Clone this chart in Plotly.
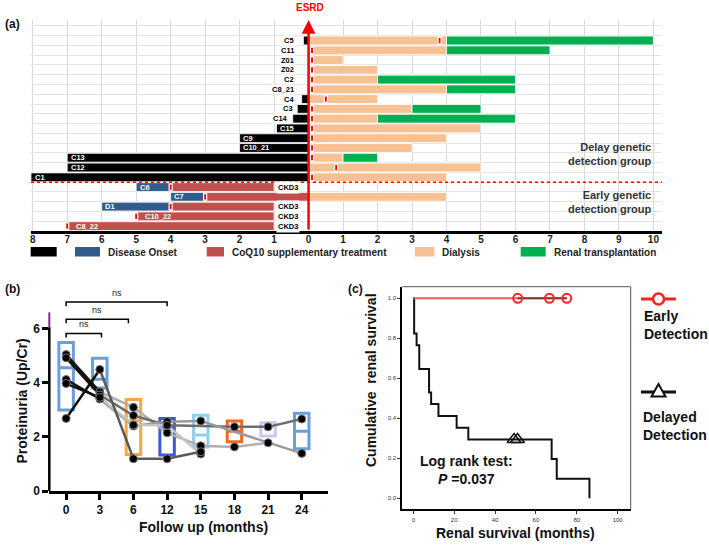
import plotly.graph_objects as go

W, H = 709, 546
FONT = "Arial, Liberation Sans, sans-serif"


def fx(px):
    return px / W


def fy(py):
    return 1 - py / H


# ---------------- panel (a): timeline, years relative to ESRD ----------------
patients = ["C5", "C11", "Z01", "Z02", "C2", "C8_21", "C4", "C3", "C14", "C15",
            "C9", "C10_21", "C13", "C12", "C1", "C6", "C7", "D1", "C10_22", "C8_22"]
black_start = [-0.15, None, None, None, None, None, -0.2, -0.33, -0.46, -0.93,
               -2.0, -2.0, -7.0, -7.0, -8.05, None, None, None, None, None]
onset_start = [None] * 15 + [-5.0, -4.0, -6.0, None, None]
onset_end = [None] * 15 + [-4.0, -3.0, -4.0, None, None]
coq_start = [None] * 15 + [-4.0, -3.0, -4.0, -5.0, -7.0]
coq_end = [None] * 15 + [-1.0, 0.0, -1.0, -1.0, -1.0]
dialysis_end = [4.0, 4.0, 1.0, 2.0, 2.0, 4.0, 2.0, 3.0, 2.0, 5.0,
                4.0, 3.0, 1.0, 5.0, 4.0, None, 4.0, None, None, None]
transplant_end = [10.0, 7.0, None, None, 6.0, 6.0, None, 5.0, 6.0, None,
                  None, None, 2.0, None, None, None, None, None, None, None]
detection = [3.8, 0.1, 0.1, 0.1, 0.1, 0.1, 0.5, 0.1, 0.1, 0.1,
             0.1, 0.1, 0.1, 0.8, 0.1, -4.0, -3.0, -4.0, -5.0, -7.0]
ckd_stage = [None] * 15 + ["CKD3", None, "CKD3", "CKD3", "CKD3"]
n_delayed = 15

# ---------------- panel (b): proteinuria follow-up ----------------
months = ["0", "3", "6", "12", "15", "18", "21", "24"]
box_low = [2.99, 3.81, 1.35, 1.33, 1.63, 1.82, 2.03, 1.56]
box_high = [5.49, 4.90, 3.38, 2.68, 2.80, 2.59, 2.52, 2.87]
box_mid = [4.55, 4.13, 2.60, 2.34, 2.07, 2.21, 2.38, 2.21]
subjects = [
    [5.04, 3.66, 3.09, 2.15, 1.67, 1.63, 1.78, None],
    [4.92, 3.55, 2.79, 2.43, None, 2.37, 2.37, 2.66],
    [4.12, 3.40, 2.40, 2.56, 2.59, None, None, 1.39],
    [3.97, 3.46, 2.44, 2.43, 1.37, None, None, None],
    [2.68, 4.49, 1.19, 1.19, 1.45, None, None, None],
]
ns_pairs = [(0, 1.05), (0, 1.85), (0, 3.0)]
ns_levels = [5.82, 6.35, 6.98]

# ---------------- panel (c): Kaplan-Meier ----------------
early_time = [0, 75.1]
early_surv = [1.0, 1.0]
early_censor = [51.1, 66.6, 75.1]
delayed_time = [0, 0.4, 1.6, 2.9, 7.7, 8.7, 12.3, 21.2, 26.9, 67.7, 70.2, 86.2]
delayed_surv = [1.0, 0.824, 0.765, 0.647, 0.529, 0.471, 0.412, 0.353, 0.294,
                0.196, 0.098, 0.0]
delayed_censor = [49.3, 51.0]
delayed_censor_surv = [0.294, 0.294]

C_BLACK = "#000000"
C_ONSET = "#2F5C8C"
C_COQ = "#C0504D"
C_DIAL = "#F8C193"
C_TX = "#00B050"

n = len(patients)
rows = [n - 1 - k for k in range(n)]

fig = go.Figure()


def segment_bar(starts, ends, color, width=0.9, line_w=0.8):
    ys, bases, lens = [], [], []
    for k in range(n):
        s, e = starts[k], ends[k]
        if s is None or e is None:
            continue
        ys.append(rows[k])
        bases.append(s)
        lens.append(e - s)
    return go.Bar(y=ys, x=lens, base=bases, orientation="h", width=width,
                  marker=dict(color=color, line=dict(color="white", width=line_w)),
                  xaxis="x", yaxis="y", showlegend=False, hoverinfo="skip")


def label(text, x, y, size=14, color="#111111", bold=True, xref="paper", yref="paper", **kw):
    d = dict(x=x, y=y, xref=xref, yref=yref, text=text, showarrow=False,
             xanchor="center", yanchor="middle",
             font=dict(size=size, color=color, family=FONT, weight="bold" if bold else "normal"))
    d.update(kw)
    return d


black_end = [0.0 if s is not None else None for s in black_start]
dial_start = [0.0 if e is not None else None for e in dialysis_end]
fig.add_trace(segment_bar(black_start, black_end, C_BLACK))
fig.add_trace(segment_bar(onset_start, onset_end, C_ONSET))
fig.add_trace(segment_bar(coq_start, coq_end, C_COQ))
fig.add_trace(segment_bar(dial_start, dialysis_end, C_DIAL))
fig.add_trace(segment_bar(dialysis_end, transplant_end, C_TX))
fig.add_trace(segment_bar([d - 0.045 for d in detection],
                          [d + 0.045 for d in detection], "#FF0000",
                          width=0.66, line_w=1.2))

annotations = []
shapes = []

# patient labels
for k, p in enumerate(patients):
    if k < n_delayed:
        s = black_start[k]
        if s is not None and s < -0.8:
            annotations.append(label(p, s + 0.05, rows[k], 7.5, "white", xref="x", yref="y",
                                     xanchor="left"))
        else:
            xr = min((s if s is not None else 0) - 0.1, -0.4)
            annotations.append(label(p, xr, rows[k], 7.5, "black", xref="x", yref="y",
                                     xanchor="right", bgcolor="white", borderpad=0))
    else:
        xl = onset_start[k] + 0.05 if onset_start[k] is not None else coq_start[k] + 0.2
        annotations.append(label(p, xl, rows[k], 7.5, "white", xref="x", yref="y",
                                 xanchor="left"))
        if ckd_stage[k]:
            annotations.append(label(ckd_stage[k], coq_end[k] + 0.05, rows[k], 7.5, "black",
                                     xref="x", yref="y", xanchor="left",
                                     bgcolor="white", borderpad=1))

# ESRD arrow
annotations.append(dict(x=0, y=21.1, ax=0, ay=-0.5, xref="x", yref="y",
                        axref="x", ayref="y", text="", showarrow=True,
                        arrowhead=2, arrowsize=1.1, arrowwidth=2.5, arrowcolor="#FF0000"))
annotations.append(label("ESRD", 0.05, fy(8), 10, "#FF0000", xref="x"))
shapes.append(dict(type="line", xref="x", yref="y", x0=-8.05, x1=10.3,
                   y0=n - n_delayed - 0.5, y1=n - n_delayed - 0.5,
                   line=dict(color="#FF0000", width=1.5, dash="dot")))
annotations.append(label("Delay genetic<br>detection group", fx(653), fy(154), 11, "#333333",
                         xanchor="right", align="right"))
annotations.append(label("Early genetic<br>detection group", fx(653), fy(202), 11, "#333333",
                         xanchor="right", align="right"))

# legend of panel (a)
legend_items = [(30.7, 56.7, C_BLACK, ""), (75, 100, C_ONSET, "Disease Onset"),
                (206.7, 224, C_COQ, "CoQ10 supplementary treatment"),
                (415, 434.3, C_DIAL, "Dialysis"), (520.7, 545.7, C_TX, "Renal transplantation")]
for x0, x1, col, lab in legend_items:
    shapes.append(dict(type="rect", xref="paper", yref="paper", x0=fx(x0), x1=fx(x1),
                       y0=fy(256.5), y1=fy(247), fillcolor=col, line=dict(width=0)))
    if lab:
        annotations.append(label(lab, fx(x1 + 6), fy(252.5), 10, "#222222", xanchor="left"))

# ---------------- panel (b) traces ----------------
box_colors = ["#6A9FD8", "#6A9FD8", "#F8A545", "#3A5AD8", "#90D0F2", "#F26A1C", "#CBC6F2", "#6A9FD8"]
for i in range(len(months)):
    fig.add_trace(go.Box(x=[i], q1=[box_low[i]], median=[box_mid[i]], q3=[box_high[i]],
                         lowerfence=[box_low[i]], upperfence=[box_high[i]], width=0.43,
                         fillcolor="rgba(0,0,0,0)", line=dict(color=box_colors[i], width=3),
                         whiskerwidth=0, boxpoints=False, xaxis="x2", yaxis="y2",
                         showlegend=False, hoverinfo="skip"))

later_colors = ["#b0b0b0", "#6e6e6e", "#9a9a9a", "#c4c4c4", "#5a5a5a"]
for s, col in zip(subjects, later_colors):
    xs = [i for i in range(len(months)) if s[i] is not None]
    ys = [s[i] for i in xs]
    fig.add_trace(go.Scatter(x=xs[1:], y=ys[1:], mode="lines",
                             line=dict(color=col, width=2.5), xaxis="x2", yaxis="y2",
                             showlegend=False, hoverinfo="skip"))
for s in subjects:
    fig.add_trace(go.Scatter(x=[0, 1], y=s[:2], mode="lines",
                             line=dict(color="#111111", width=2.5), xaxis="x2", yaxis="y2",
                             showlegend=False, hoverinfo="skip"))
for s in subjects:
    xs = [i for i in range(len(months)) if s[i] is not None]
    ys = [s[i] for i in xs]
    fig.add_trace(go.Scatter(x=xs, y=ys, mode="markers",
                             marker=dict(color="#000000", size=8, line=dict(color="#777777", width=1)),
                             xaxis="x2", yaxis="y2", showlegend=False, hoverinfo="skip"))

for (a, b), lv in zip(ns_pairs, ns_levels):
    fig.add_trace(go.Scatter(x=[a, a, b, b], y=[lv - 0.15, lv, lv, lv - 0.15], mode="lines",
                             line=dict(color="#000000", width=1.5), xaxis="x2", yaxis="y2",
                             showlegend=False, hoverinfo="skip"))
    annotations.append(label("ns", (a + b) / 2, lv + 0.08, 9, "#222222", bold=False,
                             xref="x2", yref="y2", yanchor="bottom"))

shapes.append(dict(type="line", xref="x2 domain", yref="y2", x0=0, x1=0, y0=0, y1=6.05,
                   line=dict(color="black", width=2.5)))
shapes.append(dict(type="line", xref="x2 domain", yref="y2", x0=0, x1=0, y0=6.05, y1=6.6,
                   line=dict(color="#7B2D8E", width=2)))

# ---------------- panel (c) traces ----------------
fig.add_trace(go.Scatter(x=delayed_time, y=delayed_surv, mode="lines", line_shape="hv",
                         line=dict(color="#111111", width=2), xaxis="x3", yaxis="y3",
                         showlegend=False, hoverinfo="skip"))
fig.add_trace(go.Scatter(x=delayed_censor, y=delayed_censor_surv, mode="markers",
                         marker=dict(symbol="triangle-up-open", size=12, color="#111111",
                                     line=dict(width=1.5)),
                         xaxis="x3", yaxis="y3", showlegend=False, hoverinfo="skip"))
fig.add_trace(go.Scatter(x=early_time, y=early_surv, mode="lines",
                         line=dict(color="#F25C5C", width=2), xaxis="x3", yaxis="y3",
                         showlegend=False, hoverinfo="skip"))
fig.add_trace(go.Scatter(x=early_censor, y=[1.0] * len(early_censor), mode="lines+markers",
                         line=dict(color="#8A3434", width=2),
                         marker=dict(symbol="circle-open", size=9, color="#FF2020",
                                     line=dict(width=2)),
                         xaxis="x3", yaxis="y3", showlegend=False, hoverinfo="skip"))

shapes.append(dict(type="line", xref="x3 domain", yref="y3 domain", x0=0, x1=1, y0=1, y1=1,
                   line=dict(color="#555555", width=1)))
shapes.append(dict(type="line", xref="x3 domain", yref="y3 domain", x0=1, x1=1, y0=0, y1=1,
                   line=dict(color="#555555", width=1)))

# legend of panel (c)
shapes.append(dict(type="line", xref="paper", yref="paper", x0=fx(641), x1=fx(676),
                   y0=fy(299), y1=fy(299), line=dict(color="#FF2020", width=3)))
shapes.append(dict(type="circle", xref="paper", yref="paper", x0=fx(653), x1=fx(664),
                   y0=fy(304.5), y1=fy(293.5), fillcolor="white",
                   line=dict(color="#FF2020", width=2.5)))
shapes.append(dict(type="line", xref="paper", yref="paper", x0=fx(641), x1=fx(676),
                   y0=fy(392), y1=fy(392), line=dict(color="#111111", width=3)))
tri = [(658.5, 384), (651.5, 396.5), (665.5, 396.5)]
path = "M {} {} L {} {} L {} {} Z".format(*[v for p in tri for v in (fx(p[0]), fy(p[1]))])
shapes.append(dict(type="path", xref="paper", yref="paper", path=path, fillcolor="white",
                   line=dict(color="#111111", width=2)))
annotations.append(label("Early<br>Detection", fx(642), fy(325), xanchor="left", align="left"))
annotations.append(label("Delayed<br>Detection", fx(641), fy(425.5), xanchor="left", align="left"))
annotations.append(label("Log rank test:<br><i>P</i> =0.037", fx(466), fy(470)))

# axis titles and panel letters
annotations += [
    label("Proteinuria (Up/Cr)", fx(21.5), fy(401), textangle=-90),
    label("Follow up (months)", fx(203), fy(527)),
    label("Cumulative  renal survival", fx(371), fy(380), textangle=-90),
    label("Renal survival (months)", fx(515), fy(533)),
    label("(a)", fx(3), fy(24), 12, xanchor="left"),
    label("(b)", fx(3), fy(289), 12, xanchor="left"),
    label("(c)", fx(346), fy(289), 12, xanchor="left"),
]

fig.update_layout(
    width=W, height=H,
    margin=dict(l=0, r=0, t=0, b=0, autoexpand=False),
    paper_bgcolor="white", plot_bgcolor="rgba(0,0,0,0)",
    font=dict(family=FONT, color="#111111"),
    barmode="overlay",
    showlegend=False,
    xaxis=dict(domain=[fx(31), fx(662)], range=[-8.05, 10.25], anchor="y", automargin=False,
               tickvals=list(range(-8, 11)), ticktext=[str(abs(v)) for v in range(-8, 11)],
               ticks="", showline=True, linewidth=3, linecolor="black", ticklabelstandoff=-3,
               showgrid=True, gridcolor="#d9d9d9", gridwidth=1, zeroline=False,
               tickfont=dict(size=10, family=FONT, weight="bold", color="#222222")),
    yaxis=dict(domain=[fy(231), fy(20)], range=[-0.5, 21.1], anchor="x", automargin=False,
               tickvals=[i + 0.5 for i in range(0, 21)], showticklabels=False, ticks="",
               showgrid=True, gridcolor="#e4e4e4", gridwidth=1, zeroline=False, showline=False),
    xaxis2=dict(domain=[fx(49.3), fx(328)], range=[-0.5, 7.78], anchor="y2", automargin=False,
                tickvals=list(range(len(months))), ticktext=months,
                ticks="outside", ticklen=6, tickwidth=2.5, tickcolor="black",
                showline=True, linewidth=2.5, linecolor="black", showgrid=False, zeroline=False,
                tickfont=dict(size=12, family=FONT, weight="bold", color="#111111")),
    yaxis2=dict(domain=[fy(491), fy(288)], range=[0, 7.5], anchor="x2", automargin=False,
                tickvals=[0, 2, 4, 6], ticks="outside", ticklen=6, tickwidth=2.5, tickcolor="black",
                showline=False, showgrid=False, zeroline=False,
                tickfont=dict(size=12, family=FONT, weight="bold", color="#111111")),
    xaxis3=dict(domain=[fx(402.3), fx(630.7)], range=[-5.4, 106.4], anchor="y3", automargin=False,
                tickvals=[0, 20, 40, 60, 80, 100], ticks="outside", ticklen=3, tickwidth=1,
                tickcolor="#333333", showline=True, linewidth=2, linecolor="black",
                showgrid=False, zeroline=False,
                tickfont=dict(size=6, family=FONT, color="#333333")),
    yaxis3=dict(domain=[fy(509.3), fy(286.7)], range=[-0.055, 1.058], anchor="x3", automargin=False,
                tickvals=[0, 0.2, 0.4, 0.6, 0.8, 1.0], tickformat=".1f", ticks="outside",
                ticklen=3, tickwidth=1, tickcolor="#333333", showline=True, linewidth=2,
                linecolor="black", showgrid=False, zeroline=False,
                tickfont=dict(size=6, family=FONT, color="#333333")),
    annotations=annotations,
    shapes=shapes,
)

fig.write_html("out.html", config={"displayModeBar": False},
               post_script="document.body.style.margin='0px';")
